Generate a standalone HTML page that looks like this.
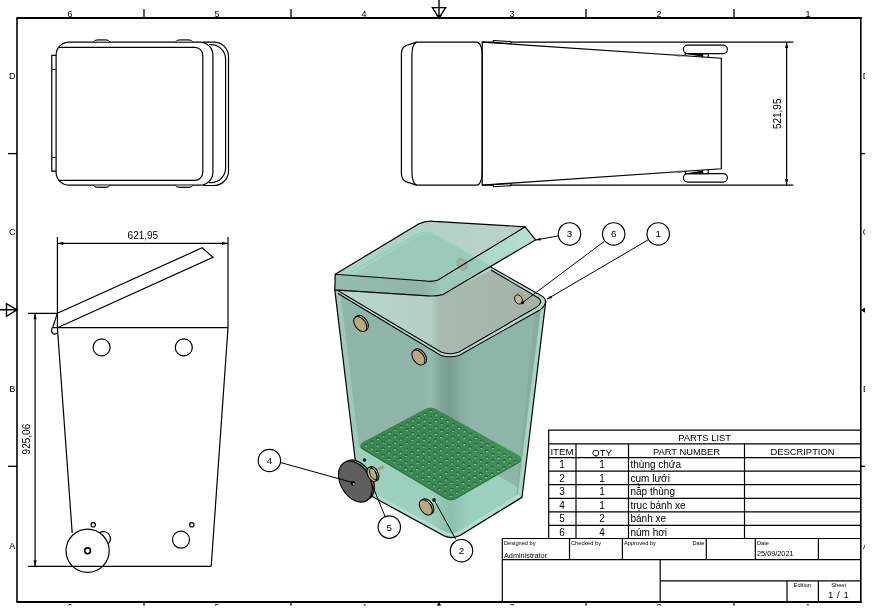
<!DOCTYPE html>
<html><head><meta charset="utf-8"><style>
html,body{margin:0;padding:0;background:#fff;width:877px;height:615px;overflow:hidden}
svg{display:block;will-change:transform}
text{font-family:"Liberation Sans", sans-serif;fill:#000}
</style></head><body>
<svg width="877" height="615" viewBox="0 0 877 615">
<rect width="877" height="615" fill="#fff"/>
<g fill="none" stroke="#000" stroke-width="1.3">
<path d="M17,18 V602" stroke-width="1.6"/><path d="M16.4,18 H861.6 M16.4,602 H861.6" stroke-width="2"/><path d="M860.8,17 V603" stroke-width="1.6"/>
<path d="M144,9 V18"/><path d="M144,602 V607"/>
<path d="M291,9 V18"/><path d="M291,602 V607"/>
<path d="M586,9 V18"/><path d="M586,602 V607"/>
<path d="M734,9 V18"/><path d="M734,602 V607"/>
<path d="M8,153.6 H17"/><path d="M860.6,153.6 H866"/>
<path d="M8,466.3 H17"/><path d="M860.6,466.3 H866"/>
</g>
<path d="M439,0 V18 M432.4,7.6 H445.6 L439,18 Z" fill="none" stroke="#000" stroke-width="1.4"/>
<path d="M436,15 L442,15 L439,18.5 Z" fill="#000"/>
<path d="M0,309.8 H17 M6.5,303.7 V316.3 L17,309.8 Z" fill="none" stroke="#000" stroke-width="1.4"/>
<path d="M861,310.2 L865,307.5 L865,312.8 Z" fill="#000"/>
<path d="M439,602 L436,607 L442,607 Z" fill="#000"/>
<text x="70" y="16.8" font-size="9" text-anchor="middle" >6</text>
<text x="70" y="610.2" font-size="9" text-anchor="middle" >6</text>
<text x="217" y="16.8" font-size="9" text-anchor="middle" >5</text>
<text x="217" y="610.2" font-size="9" text-anchor="middle" >5</text>
<text x="364" y="16.8" font-size="9" text-anchor="middle" >4</text>
<text x="364" y="610.2" font-size="9" text-anchor="middle" >4</text>
<text x="512" y="16.8" font-size="9" text-anchor="middle" >3</text>
<text x="512" y="610.2" font-size="9" text-anchor="middle" >3</text>
<text x="659" y="16.8" font-size="9" text-anchor="middle" >2</text>
<text x="659" y="610.2" font-size="9" text-anchor="middle" >2</text>
<text x="808" y="16.8" font-size="9" text-anchor="middle" >1</text>
<text x="808" y="610.2" font-size="9" text-anchor="middle" >1</text>
<text x="12.3" y="79.2" font-size="9" text-anchor="middle" >D</text>
<text x="866" y="79.2" font-size="9" text-anchor="middle" >D</text>
<text x="12.3" y="234.7" font-size="9" text-anchor="middle" >C</text>
<text x="866" y="234.7" font-size="9" text-anchor="middle" >C</text>
<text x="12.3" y="391.8" font-size="9" text-anchor="middle" >B</text>
<text x="866" y="391.8" font-size="9" text-anchor="middle" >B</text>
<text x="12.3" y="548.6" font-size="9" text-anchor="middle" >A</text>
<text x="866" y="548.6" font-size="9" text-anchor="middle" >A</text>
<g fill="none" stroke="#000" stroke-width="1.2">
<path d="M203,42.2 H214 A14.5,14.5 0 0 1 228.5,56.7 V171 A14.5,14.5 0 0 1 214,185.5 H203"/>
<path d="M209,44.6 H211 A14.6,14.6 0 0 1 225.6,59.2 V168 A14.6,14.6 0 0 1 211,182.6 H209"/>
<rect x="56.1" y="42.1" width="156.8" height="143.1" rx="13" ry="13" fill="#fff"/>
<path d="M58.8,47.3 H194.8 A8,8 0 0 1 202.8,55.3 V172.3 A8,8 0 0 1 194.8,180.3 H58.8"/>
<path d="M56.1,55.3 H51.8 V171.2 H56.1 M51.8,69.5 H56.1 M51.8,157.5 H56.1"/>
</g>
<path d="M93.4,42.1 Q94.4,39.9 97.4,39.8 H106 Q109,39.9 110,42.1" fill="#aaa" stroke="#000" stroke-width="0.9"/>
<path d="M93.4,185.2 Q94.4,187.4 97.4,187.5 H106 Q109,187.4 110,185.2" fill="#aaa" stroke="#000" stroke-width="0.9"/>
<path d="M175.4,42.1 Q176.4,39.9 179.4,39.8 H188.9 Q191.9,39.9 192.9,42.1" fill="#aaa" stroke="#000" stroke-width="0.9"/>
<path d="M175.4,185.2 Q176.4,187.4 179.4,187.5 H188.9 Q191.9,187.4 192.9,185.2" fill="#aaa" stroke="#000" stroke-width="0.9"/>
<g fill="none" stroke="#000" stroke-width="1.2">
<path d="M416.5,42.1 L406,45.5 Q401.4,47.5 401.4,54 V173 Q401.4,179.6 406,181.6 L416.5,185.1"/>
<path d="M416.5,42.1 H477.5 Q482.2,44 482.2,56 V171 Q482.2,183.2 477.5,185.1 H416.5 Q411.9,183.2 411.9,171 V56 Q411.9,44 416.5,42.1 Z"/>
<path d="M482.2,42.1 H793.3 M482.2,185.1 H793.3"/>
<path d="M482.2,42.1 L721.3,58.2 V168.8 L482.2,185.1 Z"/>
<rect x="683.4" y="45.1" width="44" height="8.5" rx="4.25" ry="4.25"/>
<rect x="683.4" y="173.6" width="44" height="8.5" rx="4.25" ry="4.25"/>
<path d="M685.2,53.6 H708.2 V57.8 M702.6,53.6 V57.3 M685.2,53.6 V55.6 M685.2,173.6 H708.2 V169.4 M702.6,173.6 V169.9 M685.2,173.6 V171.6"/>
<path d="M786.6,42.1 V185.1"/>
</g>
<path d="M493.3,40.5 L510.9,41.5 L510.9,43.6 L493.3,42.4 Z" fill="#fff" stroke="#000" stroke-width="1.1"/>
<path d="M493.3,186.7 L510.9,185.7 L510.9,183.6 L493.3,184.8 Z" fill="#fff" stroke="#000" stroke-width="1.1"/>
<path d="M786.60,42.10 L788.20,48.10 L785.00,48.10 Z" fill="#000" stroke="none"/>
<path d="M786.60,185.10 L785.00,179.10 L788.20,179.10 Z" fill="#000" stroke="none"/>
<path d="M686,53.8 L702.4,53.8 L702.4,56.8 Z M686,173.4 L702.4,173.4 L702.4,170.4 Z" fill="#000"/>
<rect x="677" y="54.6" width="5" height="1.8" fill="#555"/><rect x="677" y="170.8" width="5" height="1.8" fill="#555"/>
<text x="0" y="0" font-size="10" text-anchor="middle" transform="translate(780.5,113.8) rotate(-90)">521,95</text>
<g fill="none" stroke="#000" stroke-width="1.2">
<path d="M57.4,237 V328 M228,237 V328 M57.4,243.4 H228"/>
<path d="M57.4,313.3 L202.2,247.8 L213,257.4 L57.4,327.7"/>
<path d="M57.4,327.7 H228"/>
<path d="M57.4,328 L72.2,533 M228,328 L211.2,566.3 M28,566.3 H211.2"/>
<circle cx="101.6" cy="347.4" r="8.5"/><circle cx="183.8" cy="347.4" r="8.5"/>
<path d="M99.6,532.8 A7,7 0 0 1 108.07,543.9"/>
<circle cx="87.6" cy="550.8" r="21.6"/>
<circle cx="87.6" cy="550.8" r="2.9" stroke-width="1.6"/>
<circle cx="93.2" cy="524.8" r="2.2"/><circle cx="191.8" cy="524.8" r="2.2"/>
<circle cx="181" cy="539.7" r="8.5"/>
<path d="M57.4,313.3 L52.6,327.6 M52.2,327.6 H57.4 M52.2,327.6 Q50.6,332 53.2,333.6 Q55.6,334.8 57.6,332.6"/>
<path d="M28,313.3 H57.4 M35.1,313.3 V566.3"/>
</g>
<path d="M57.40,243.40 L63.40,241.80 L63.40,245.00 Z" fill="#000" stroke="none"/>
<path d="M228.00,243.40 L222.00,245.00 L222.00,241.80 Z" fill="#000" stroke="none"/>
<path d="M35.10,313.30 L36.70,319.30 L33.50,319.30 Z" fill="#000" stroke="none"/>
<path d="M35.10,566.30 L33.50,560.30 L36.70,560.30 Z" fill="#000" stroke="none"/>
<text x="142.9" y="238.8" font-size="10" text-anchor="middle" >621,95</text>
<text x="0" y="0" font-size="10" text-anchor="middle" transform="translate(30.3,439.1) rotate(-90)">925,06</text>
<g fill="none" stroke="#000" stroke-width="1.2">
<path d="M548.7,538.5 V430.2 H860.6"/>
<path d="M548.7,443.8 H860.6"/>
<path d="M548.7,457.6 H860.6"/>
<path d="M548.7,471.2 H860.6"/>
<path d="M548.7,484.7 H860.6"/>
<path d="M548.7,498.3 H860.6"/>
<path d="M548.7,511.9 H860.6"/>
<path d="M548.7,525.3 H860.6"/>
<path d="M576,443.8 V538.5"/>
<path d="M628.5,443.8 V538.5"/>
<path d="M744.5,443.8 V538.5"/>
<path d="M502.3,601.8 V538.5 H860.6 M502.3,559.7 H860.6"/>
<path d="M569.5,538.5 V559.7"/>
<path d="M622.4,538.5 V559.7"/>
<path d="M706.3,538.5 V559.7"/>
<path d="M755.3,538.5 V559.7"/>
<path d="M818.4,538.5 V559.7"/>
<path d="M660.2,559.7 V601.8 M660.2,580.8 H860.6 M787,580.8 V601.8 M818.4,580.8 V601.8"/>
</g>
<text x="704.6" y="441" font-size="9.4" text-anchor="middle" >PARTS LIST</text>
<text x="562" y="454.8" font-size="9.7" text-anchor="middle" >ITEM</text>
<text x="602" y="455.5" font-size="9.8" text-anchor="middle" >QTY</text>
<text x="686.5" y="454.6" font-size="9.4" text-anchor="middle" >PART NUMBER</text>
<text x="802.5" y="455.3" font-size="9.4" text-anchor="middle" >DESCRIPTION</text>
<text x="562" y="468.0" font-size="10" text-anchor="middle" >1</text>
<text x="602" y="468.0" font-size="10" text-anchor="middle" >1</text>
<text x="630.5" y="468.0" font-size="10" text-anchor="start" >thùng chứa</text>
<text x="562" y="481.55" font-size="10" text-anchor="middle" >2</text>
<text x="602" y="481.55" font-size="10" text-anchor="middle" >1</text>
<text x="630.5" y="481.55" font-size="10" text-anchor="start" >cụm lưới</text>
<text x="562" y="495.1" font-size="10" text-anchor="middle" >3</text>
<text x="602" y="495.1" font-size="10" text-anchor="middle" >1</text>
<text x="630.5" y="495.1" font-size="10" text-anchor="start" >nắp thùng</text>
<text x="562" y="508.70000000000005" font-size="10" text-anchor="middle" >4</text>
<text x="602" y="508.70000000000005" font-size="10" text-anchor="middle" >1</text>
<text x="630.5" y="508.70000000000005" font-size="10" text-anchor="start" >trục bánh xe</text>
<text x="562" y="522.1999999999999" font-size="10" text-anchor="middle" >5</text>
<text x="602" y="522.1999999999999" font-size="10" text-anchor="middle" >2</text>
<text x="630.5" y="522.1999999999999" font-size="10" text-anchor="start" >bánh xe</text>
<text x="562" y="535.5" font-size="10" text-anchor="middle" >6</text>
<text x="602" y="535.5" font-size="10" text-anchor="middle" >4</text>
<text x="630.5" y="535.5" font-size="10" text-anchor="start" >núm hơi</text>
<text x="504" y="544.8" font-size="5.7" text-anchor="start" >Designed by</text>
<text x="571" y="544.8" font-size="5.7" text-anchor="start" >Checked by</text>
<text x="624" y="544.8" font-size="5.7" text-anchor="start" >Approved by</text>
<text x="704.5" y="544.8" font-size="5.7" text-anchor="end" >Date</text>
<text x="757" y="544.8" font-size="5.7" text-anchor="start" >Date</text>
<text x="504" y="558" font-size="7.3" text-anchor="start" >Administrator</text>
<text x="757" y="556" font-size="7.3" text-anchor="start" >25/09/2021</text>
<text x="802.3" y="586.8" font-size="5.7" text-anchor="middle" >Edition</text>
<text x="838.7" y="586.8" font-size="5.7" text-anchor="middle" >Sheet</text>
<text x="838.7" y="598" font-size="9.5" text-anchor="middle" letter-spacing="0.6">1 / 1</text>
<defs><linearGradient id="fc" x1="422" x2="472" y1="0" y2="0" gradientUnits="userSpaceOnUse"><stop offset="0" stop-color="#8db5a8"/><stop offset="0.18" stop-color="#94bbae"/><stop offset="0.38" stop-color="#80a698"/><stop offset="0.55" stop-color="#789e91"/><stop offset="0.78" stop-color="#87aea0"/><stop offset="1" stop-color="#8db5a8"/></linearGradient><linearGradient id="rim" x1="336" x2="546" y1="0" y2="0" gradientUnits="userSpaceOnUse"><stop offset="0" stop-color="#b8d8c8"/><stop offset="0.45" stop-color="#b2d0c2"/><stop offset="0.49" stop-color="#a8b9ad"/><stop offset="1" stop-color="#a4b4a8"/></linearGradient><linearGradient id="lidtop" x1="336" x2="526" y1="0" y2="0" gradientUnits="userSpaceOnUse"><stop offset="0" stop-color="#aad3c3"/><stop offset="0.5" stop-color="#b0d3c4"/><stop offset="1" stop-color="#bad3c8"/></linearGradient><linearGradient id="lidfl" x1="335" x2="443" y1="0" y2="0" gradientUnits="userSpaceOnUse"><stop offset="0" stop-color="#93bdad"/><stop offset="0.8" stop-color="#8db6a7"/><stop offset="1" stop-color="#9fc6b7"/></linearGradient><linearGradient id="grid" x1="360" x2="522" y1="0" y2="0" gradientUnits="userSpaceOnUse"><stop offset="0" stop-color="#3a8851"/><stop offset="0.6" stop-color="#3c8a53"/><stop offset="1" stop-color="#44925b"/></linearGradient><linearGradient id="lidfr" x1="438" x2="535" y1="0" y2="0" gradientUnits="userSpaceOnUse"><stop offset="0" stop-color="#98c9b8"/><stop offset="0.3" stop-color="#a8d6c4"/><stop offset="1" stop-color="#b6e2cf"/></linearGradient><linearGradient id="fc2" x1="430" x2="470" y1="0" y2="0" gradientUnits="userSpaceOnUse"><stop offset="0" stop-color="#6a9a8a" stop-opacity="0"/><stop offset="0.5" stop-color="#6a9a8a" stop-opacity="0.3"/><stop offset="1" stop-color="#6a9a8a" stop-opacity="0"/></linearGradient><clipPath id="bodyclip"><path d="M334.8,289.9 L355,460 L372,496 L443.8,535.8 Q452,539.5 460,535.5 L522,497.3 L545.6,302 Q545,297.5 541,295.5 L488,265.5 L443,294.5 Z"/></clipPath><clipPath id="lidclip"><path d="M335.2,274.3 L418.5,224 Q426,220.3 434,221.3 L525.2,226.8 L438,280 Q432,282 426,281 Z"/></clipPath><clipPath id="lidclip2"><path d="M335.2,274.3 L418.5,224 Q426,220.3 434,221.3 L525.2,226.8 L535.6,239.9 L443,294.5 L438,280 Q432,282 426,281 Z"/></clipPath></defs>
<g clip-path="url(#bodyclip)">
<path d="M334.8,289.9 L355,460 L372,496 L443.8,535.8 Q452,539.5 460,535.5 L522,497.3 L545.6,302 Q545,297.5 541,295.5 L488,265.5 L443,294.5 Z" fill="#8db5a8"/>
<path d="M334.8,289.9 L340.3,292 L360.5,460 L355.2,460 Z" fill="#a0c9ba"/>
<rect x="422" y="340" width="50" height="200" fill="url(#fc)"/>
<path d="M355,445 L451,500 L497,475 L521,489 L522,497.3 L460,535.5 Q452,539.5 443.8,535.8 L372,496 L355,460 Z" fill="#9bd0bc"/>
<rect x="430" y="470" width="40" height="70" fill="url(#fc2)"/>
<path d="M372,493.5 L444,533 Q452,536.5 459,533 L521,494.5" fill="none" stroke="#b3e0cd" stroke-width="3"/>
<path d="M535.6,303 L541.6,303 L522.3,495 L516.3,495 Z" fill="#82aa9c" opacity="0.7"/>
<path d="M541.6,303 L545.8,301 L522,497.3 L517.6,495 Z" fill="#a8d6c3"/>
</g>
<path d="M363.1,449.9 Q357.5,446.6 363.2,443.5 L425.1,410.7 Q430.8,407.6 436.5,410.8 L518.3,456.7 Q524.0,459.9 518.4,463.2 L456.6,498.8 Q451.0,502.1 445.4,498.8 Z" fill="#2f7443"/>
<path d="M363.1,448.3 Q357.5,445.0 363.2,441.9 L425.1,409.1 Q430.8,406.0 436.5,409.2 L518.3,455.1 Q524.0,458.3 518.4,461.6 L456.6,497.2 Q451.0,500.5 445.4,497.2 Z" fill="url(#grid)"/>
<path d="M364.3,444.9a1.8,1.25 0 1 0 3.6,0a1.8,1.25 0 1 0 -3.6,0M370.0,448.2a1.8,1.25 0 1 0 3.6,0a1.8,1.25 0 1 0 -3.6,0M375.7,451.6a1.8,1.25 0 1 0 3.6,0a1.8,1.25 0 1 0 -3.6,0M381.3,455.0a1.8,1.25 0 1 0 3.6,0a1.8,1.25 0 1 0 -3.6,0M387.0,458.3a1.8,1.25 0 1 0 3.6,0a1.8,1.25 0 1 0 -3.6,0M392.7,461.7a1.8,1.25 0 1 0 3.6,0a1.8,1.25 0 1 0 -3.6,0M398.3,465.1a1.8,1.25 0 1 0 3.6,0a1.8,1.25 0 1 0 -3.6,0M404.0,468.4a1.8,1.25 0 1 0 3.6,0a1.8,1.25 0 1 0 -3.6,0M409.7,471.8a1.8,1.25 0 1 0 3.6,0a1.8,1.25 0 1 0 -3.6,0M415.3,475.2a1.8,1.25 0 1 0 3.6,0a1.8,1.25 0 1 0 -3.6,0M421.0,478.5a1.8,1.25 0 1 0 3.6,0a1.8,1.25 0 1 0 -3.6,0M426.7,481.9a1.8,1.25 0 1 0 3.6,0a1.8,1.25 0 1 0 -3.6,0M432.3,485.2a1.8,1.25 0 1 0 3.6,0a1.8,1.25 0 1 0 -3.6,0M438.0,488.6a1.8,1.25 0 1 0 3.6,0a1.8,1.25 0 1 0 -3.6,0M443.7,492.0a1.8,1.25 0 1 0 3.6,0a1.8,1.25 0 1 0 -3.6,0M449.3,495.3a1.8,1.25 0 1 0 3.6,0a1.8,1.25 0 1 0 -3.6,0M370.2,441.8a1.8,1.25 0 1 0 3.6,0a1.8,1.25 0 1 0 -3.6,0M375.9,445.1a1.8,1.25 0 1 0 3.6,0a1.8,1.25 0 1 0 -3.6,0M381.5,448.5a1.8,1.25 0 1 0 3.6,0a1.8,1.25 0 1 0 -3.6,0M387.2,451.9a1.8,1.25 0 1 0 3.6,0a1.8,1.25 0 1 0 -3.6,0M392.9,455.2a1.8,1.25 0 1 0 3.6,0a1.8,1.25 0 1 0 -3.6,0M398.5,458.6a1.8,1.25 0 1 0 3.6,0a1.8,1.25 0 1 0 -3.6,0M404.2,461.9a1.8,1.25 0 1 0 3.6,0a1.8,1.25 0 1 0 -3.6,0M409.9,465.3a1.8,1.25 0 1 0 3.6,0a1.8,1.25 0 1 0 -3.6,0M415.5,468.7a1.8,1.25 0 1 0 3.6,0a1.8,1.25 0 1 0 -3.6,0M421.2,472.0a1.8,1.25 0 1 0 3.6,0a1.8,1.25 0 1 0 -3.6,0M426.9,475.4a1.8,1.25 0 1 0 3.6,0a1.8,1.25 0 1 0 -3.6,0M432.5,478.8a1.8,1.25 0 1 0 3.6,0a1.8,1.25 0 1 0 -3.6,0M438.2,482.1a1.8,1.25 0 1 0 3.6,0a1.8,1.25 0 1 0 -3.6,0M443.9,485.5a1.8,1.25 0 1 0 3.6,0a1.8,1.25 0 1 0 -3.6,0M449.5,488.9a1.8,1.25 0 1 0 3.6,0a1.8,1.25 0 1 0 -3.6,0M455.2,492.2a1.8,1.25 0 1 0 3.6,0a1.8,1.25 0 1 0 -3.6,0M376.1,438.6a1.8,1.25 0 1 0 3.6,0a1.8,1.25 0 1 0 -3.6,0M381.7,442.0a1.8,1.25 0 1 0 3.6,0a1.8,1.25 0 1 0 -3.6,0M387.4,445.4a1.8,1.25 0 1 0 3.6,0a1.8,1.25 0 1 0 -3.6,0M393.1,448.7a1.8,1.25 0 1 0 3.6,0a1.8,1.25 0 1 0 -3.6,0M398.7,452.1a1.8,1.25 0 1 0 3.6,0a1.8,1.25 0 1 0 -3.6,0M404.4,455.5a1.8,1.25 0 1 0 3.6,0a1.8,1.25 0 1 0 -3.6,0M410.1,458.8a1.8,1.25 0 1 0 3.6,0a1.8,1.25 0 1 0 -3.6,0M415.7,462.2a1.8,1.25 0 1 0 3.6,0a1.8,1.25 0 1 0 -3.6,0M421.4,465.6a1.8,1.25 0 1 0 3.6,0a1.8,1.25 0 1 0 -3.6,0M427.1,468.9a1.8,1.25 0 1 0 3.6,0a1.8,1.25 0 1 0 -3.6,0M432.7,472.3a1.8,1.25 0 1 0 3.6,0a1.8,1.25 0 1 0 -3.6,0M438.4,475.6a1.8,1.25 0 1 0 3.6,0a1.8,1.25 0 1 0 -3.6,0M444.1,479.0a1.8,1.25 0 1 0 3.6,0a1.8,1.25 0 1 0 -3.6,0M449.7,482.4a1.8,1.25 0 1 0 3.6,0a1.8,1.25 0 1 0 -3.6,0M455.4,485.7a1.8,1.25 0 1 0 3.6,0a1.8,1.25 0 1 0 -3.6,0M461.1,489.1a1.8,1.25 0 1 0 3.6,0a1.8,1.25 0 1 0 -3.6,0M381.9,435.5a1.8,1.25 0 1 0 3.6,0a1.8,1.25 0 1 0 -3.6,0M387.6,438.9a1.8,1.25 0 1 0 3.6,0a1.8,1.25 0 1 0 -3.6,0M393.3,442.2a1.8,1.25 0 1 0 3.6,0a1.8,1.25 0 1 0 -3.6,0M398.9,445.6a1.8,1.25 0 1 0 3.6,0a1.8,1.25 0 1 0 -3.6,0M404.6,449.0a1.8,1.25 0 1 0 3.6,0a1.8,1.25 0 1 0 -3.6,0M410.3,452.3a1.8,1.25 0 1 0 3.6,0a1.8,1.25 0 1 0 -3.6,0M415.9,455.7a1.8,1.25 0 1 0 3.6,0a1.8,1.25 0 1 0 -3.6,0M421.6,459.1a1.8,1.25 0 1 0 3.6,0a1.8,1.25 0 1 0 -3.6,0M427.3,462.4a1.8,1.25 0 1 0 3.6,0a1.8,1.25 0 1 0 -3.6,0M432.9,465.8a1.8,1.25 0 1 0 3.6,0a1.8,1.25 0 1 0 -3.6,0M438.6,469.2a1.8,1.25 0 1 0 3.6,0a1.8,1.25 0 1 0 -3.6,0M444.3,472.5a1.8,1.25 0 1 0 3.6,0a1.8,1.25 0 1 0 -3.6,0M449.9,475.9a1.8,1.25 0 1 0 3.6,0a1.8,1.25 0 1 0 -3.6,0M455.6,479.2a1.8,1.25 0 1 0 3.6,0a1.8,1.25 0 1 0 -3.6,0M461.3,482.6a1.8,1.25 0 1 0 3.6,0a1.8,1.25 0 1 0 -3.6,0M466.9,486.0a1.8,1.25 0 1 0 3.6,0a1.8,1.25 0 1 0 -3.6,0M387.8,432.4a1.8,1.25 0 1 0 3.6,0a1.8,1.25 0 1 0 -3.6,0M393.5,435.8a1.8,1.25 0 1 0 3.6,0a1.8,1.25 0 1 0 -3.6,0M399.1,439.1a1.8,1.25 0 1 0 3.6,0a1.8,1.25 0 1 0 -3.6,0M404.8,442.5a1.8,1.25 0 1 0 3.6,0a1.8,1.25 0 1 0 -3.6,0M410.5,445.9a1.8,1.25 0 1 0 3.6,0a1.8,1.25 0 1 0 -3.6,0M416.1,449.2a1.8,1.25 0 1 0 3.6,0a1.8,1.25 0 1 0 -3.6,0M421.8,452.6a1.8,1.25 0 1 0 3.6,0a1.8,1.25 0 1 0 -3.6,0M427.5,455.9a1.8,1.25 0 1 0 3.6,0a1.8,1.25 0 1 0 -3.6,0M433.1,459.3a1.8,1.25 0 1 0 3.6,0a1.8,1.25 0 1 0 -3.6,0M438.8,462.7a1.8,1.25 0 1 0 3.6,0a1.8,1.25 0 1 0 -3.6,0M444.5,466.0a1.8,1.25 0 1 0 3.6,0a1.8,1.25 0 1 0 -3.6,0M450.1,469.4a1.8,1.25 0 1 0 3.6,0a1.8,1.25 0 1 0 -3.6,0M455.8,472.8a1.8,1.25 0 1 0 3.6,0a1.8,1.25 0 1 0 -3.6,0M461.5,476.1a1.8,1.25 0 1 0 3.6,0a1.8,1.25 0 1 0 -3.6,0M467.1,479.5a1.8,1.25 0 1 0 3.6,0a1.8,1.25 0 1 0 -3.6,0M472.8,482.9a1.8,1.25 0 1 0 3.6,0a1.8,1.25 0 1 0 -3.6,0M393.7,429.3a1.8,1.25 0 1 0 3.6,0a1.8,1.25 0 1 0 -3.6,0M399.3,432.6a1.8,1.25 0 1 0 3.6,0a1.8,1.25 0 1 0 -3.6,0M405.0,436.0a1.8,1.25 0 1 0 3.6,0a1.8,1.25 0 1 0 -3.6,0M410.7,439.4a1.8,1.25 0 1 0 3.6,0a1.8,1.25 0 1 0 -3.6,0M416.3,442.7a1.8,1.25 0 1 0 3.6,0a1.8,1.25 0 1 0 -3.6,0M422.0,446.1a1.8,1.25 0 1 0 3.6,0a1.8,1.25 0 1 0 -3.6,0M427.7,449.5a1.8,1.25 0 1 0 3.6,0a1.8,1.25 0 1 0 -3.6,0M433.3,452.8a1.8,1.25 0 1 0 3.6,0a1.8,1.25 0 1 0 -3.6,0M439.0,456.2a1.8,1.25 0 1 0 3.6,0a1.8,1.25 0 1 0 -3.6,0M444.7,459.6a1.8,1.25 0 1 0 3.6,0a1.8,1.25 0 1 0 -3.6,0M450.3,462.9a1.8,1.25 0 1 0 3.6,0a1.8,1.25 0 1 0 -3.6,0M456.0,466.3a1.8,1.25 0 1 0 3.6,0a1.8,1.25 0 1 0 -3.6,0M461.7,469.6a1.8,1.25 0 1 0 3.6,0a1.8,1.25 0 1 0 -3.6,0M467.3,473.0a1.8,1.25 0 1 0 3.6,0a1.8,1.25 0 1 0 -3.6,0M473.0,476.4a1.8,1.25 0 1 0 3.6,0a1.8,1.25 0 1 0 -3.6,0M478.7,479.7a1.8,1.25 0 1 0 3.6,0a1.8,1.25 0 1 0 -3.6,0M399.5,426.2a1.8,1.25 0 1 0 3.6,0a1.8,1.25 0 1 0 -3.6,0M405.2,429.5a1.8,1.25 0 1 0 3.6,0a1.8,1.25 0 1 0 -3.6,0M410.9,432.9a1.8,1.25 0 1 0 3.6,0a1.8,1.25 0 1 0 -3.6,0M416.5,436.3a1.8,1.25 0 1 0 3.6,0a1.8,1.25 0 1 0 -3.6,0M422.2,439.6a1.8,1.25 0 1 0 3.6,0a1.8,1.25 0 1 0 -3.6,0M427.9,443.0a1.8,1.25 0 1 0 3.6,0a1.8,1.25 0 1 0 -3.6,0M433.5,446.3a1.8,1.25 0 1 0 3.6,0a1.8,1.25 0 1 0 -3.6,0M439.2,449.7a1.8,1.25 0 1 0 3.6,0a1.8,1.25 0 1 0 -3.6,0M444.9,453.1a1.8,1.25 0 1 0 3.6,0a1.8,1.25 0 1 0 -3.6,0M450.5,456.4a1.8,1.25 0 1 0 3.6,0a1.8,1.25 0 1 0 -3.6,0M456.2,459.8a1.8,1.25 0 1 0 3.6,0a1.8,1.25 0 1 0 -3.6,0M461.9,463.2a1.8,1.25 0 1 0 3.6,0a1.8,1.25 0 1 0 -3.6,0M467.5,466.5a1.8,1.25 0 1 0 3.6,0a1.8,1.25 0 1 0 -3.6,0M473.2,469.9a1.8,1.25 0 1 0 3.6,0a1.8,1.25 0 1 0 -3.6,0M478.9,473.3a1.8,1.25 0 1 0 3.6,0a1.8,1.25 0 1 0 -3.6,0M484.5,476.6a1.8,1.25 0 1 0 3.6,0a1.8,1.25 0 1 0 -3.6,0M405.4,423.0a1.8,1.25 0 1 0 3.6,0a1.8,1.25 0 1 0 -3.6,0M411.1,426.4a1.8,1.25 0 1 0 3.6,0a1.8,1.25 0 1 0 -3.6,0M416.7,429.8a1.8,1.25 0 1 0 3.6,0a1.8,1.25 0 1 0 -3.6,0M422.4,433.1a1.8,1.25 0 1 0 3.6,0a1.8,1.25 0 1 0 -3.6,0M428.1,436.5a1.8,1.25 0 1 0 3.6,0a1.8,1.25 0 1 0 -3.6,0M433.7,439.9a1.8,1.25 0 1 0 3.6,0a1.8,1.25 0 1 0 -3.6,0M439.4,443.2a1.8,1.25 0 1 0 3.6,0a1.8,1.25 0 1 0 -3.6,0M445.1,446.6a1.8,1.25 0 1 0 3.6,0a1.8,1.25 0 1 0 -3.6,0M450.7,450.0a1.8,1.25 0 1 0 3.6,0a1.8,1.25 0 1 0 -3.6,0M456.4,453.3a1.8,1.25 0 1 0 3.6,0a1.8,1.25 0 1 0 -3.6,0M462.1,456.7a1.8,1.25 0 1 0 3.6,0a1.8,1.25 0 1 0 -3.6,0M467.7,460.0a1.8,1.25 0 1 0 3.6,0a1.8,1.25 0 1 0 -3.6,0M473.4,463.4a1.8,1.25 0 1 0 3.6,0a1.8,1.25 0 1 0 -3.6,0M479.1,466.8a1.8,1.25 0 1 0 3.6,0a1.8,1.25 0 1 0 -3.6,0M484.7,470.1a1.8,1.25 0 1 0 3.6,0a1.8,1.25 0 1 0 -3.6,0M490.4,473.5a1.8,1.25 0 1 0 3.6,0a1.8,1.25 0 1 0 -3.6,0M411.3,419.9a1.8,1.25 0 1 0 3.6,0a1.8,1.25 0 1 0 -3.6,0M416.9,423.3a1.8,1.25 0 1 0 3.6,0a1.8,1.25 0 1 0 -3.6,0M422.6,426.6a1.8,1.25 0 1 0 3.6,0a1.8,1.25 0 1 0 -3.6,0M428.3,430.0a1.8,1.25 0 1 0 3.6,0a1.8,1.25 0 1 0 -3.6,0M433.9,433.4a1.8,1.25 0 1 0 3.6,0a1.8,1.25 0 1 0 -3.6,0M439.6,436.7a1.8,1.25 0 1 0 3.6,0a1.8,1.25 0 1 0 -3.6,0M445.3,440.1a1.8,1.25 0 1 0 3.6,0a1.8,1.25 0 1 0 -3.6,0M450.9,443.5a1.8,1.25 0 1 0 3.6,0a1.8,1.25 0 1 0 -3.6,0M456.6,446.8a1.8,1.25 0 1 0 3.6,0a1.8,1.25 0 1 0 -3.6,0M462.3,450.2a1.8,1.25 0 1 0 3.6,0a1.8,1.25 0 1 0 -3.6,0M467.9,453.6a1.8,1.25 0 1 0 3.6,0a1.8,1.25 0 1 0 -3.6,0M473.6,456.9a1.8,1.25 0 1 0 3.6,0a1.8,1.25 0 1 0 -3.6,0M479.3,460.3a1.8,1.25 0 1 0 3.6,0a1.8,1.25 0 1 0 -3.6,0M484.9,463.6a1.8,1.25 0 1 0 3.6,0a1.8,1.25 0 1 0 -3.6,0M490.6,467.0a1.8,1.25 0 1 0 3.6,0a1.8,1.25 0 1 0 -3.6,0M496.3,470.4a1.8,1.25 0 1 0 3.6,0a1.8,1.25 0 1 0 -3.6,0M417.1,416.8a1.8,1.25 0 1 0 3.6,0a1.8,1.25 0 1 0 -3.6,0M422.8,420.2a1.8,1.25 0 1 0 3.6,0a1.8,1.25 0 1 0 -3.6,0M428.5,423.5a1.8,1.25 0 1 0 3.6,0a1.8,1.25 0 1 0 -3.6,0M434.1,426.9a1.8,1.25 0 1 0 3.6,0a1.8,1.25 0 1 0 -3.6,0M439.8,430.3a1.8,1.25 0 1 0 3.6,0a1.8,1.25 0 1 0 -3.6,0M445.5,433.6a1.8,1.25 0 1 0 3.6,0a1.8,1.25 0 1 0 -3.6,0M451.1,437.0a1.8,1.25 0 1 0 3.6,0a1.8,1.25 0 1 0 -3.6,0M456.8,440.3a1.8,1.25 0 1 0 3.6,0a1.8,1.25 0 1 0 -3.6,0M462.5,443.7a1.8,1.25 0 1 0 3.6,0a1.8,1.25 0 1 0 -3.6,0M468.1,447.1a1.8,1.25 0 1 0 3.6,0a1.8,1.25 0 1 0 -3.6,0M473.8,450.4a1.8,1.25 0 1 0 3.6,0a1.8,1.25 0 1 0 -3.6,0M479.5,453.8a1.8,1.25 0 1 0 3.6,0a1.8,1.25 0 1 0 -3.6,0M485.1,457.2a1.8,1.25 0 1 0 3.6,0a1.8,1.25 0 1 0 -3.6,0M490.8,460.5a1.8,1.25 0 1 0 3.6,0a1.8,1.25 0 1 0 -3.6,0M496.5,463.9a1.8,1.25 0 1 0 3.6,0a1.8,1.25 0 1 0 -3.6,0M502.1,467.3a1.8,1.25 0 1 0 3.6,0a1.8,1.25 0 1 0 -3.6,0M423.0,413.7a1.8,1.25 0 1 0 3.6,0a1.8,1.25 0 1 0 -3.6,0M428.7,417.0a1.8,1.25 0 1 0 3.6,0a1.8,1.25 0 1 0 -3.6,0M434.3,420.4a1.8,1.25 0 1 0 3.6,0a1.8,1.25 0 1 0 -3.6,0M440.0,423.8a1.8,1.25 0 1 0 3.6,0a1.8,1.25 0 1 0 -3.6,0M445.7,427.1a1.8,1.25 0 1 0 3.6,0a1.8,1.25 0 1 0 -3.6,0M451.3,430.5a1.8,1.25 0 1 0 3.6,0a1.8,1.25 0 1 0 -3.6,0M457.0,433.9a1.8,1.25 0 1 0 3.6,0a1.8,1.25 0 1 0 -3.6,0M462.7,437.2a1.8,1.25 0 1 0 3.6,0a1.8,1.25 0 1 0 -3.6,0M468.3,440.6a1.8,1.25 0 1 0 3.6,0a1.8,1.25 0 1 0 -3.6,0M474.0,444.0a1.8,1.25 0 1 0 3.6,0a1.8,1.25 0 1 0 -3.6,0M479.7,447.3a1.8,1.25 0 1 0 3.6,0a1.8,1.25 0 1 0 -3.6,0M485.3,450.7a1.8,1.25 0 1 0 3.6,0a1.8,1.25 0 1 0 -3.6,0M491.0,454.0a1.8,1.25 0 1 0 3.6,0a1.8,1.25 0 1 0 -3.6,0M496.7,457.4a1.8,1.25 0 1 0 3.6,0a1.8,1.25 0 1 0 -3.6,0M502.3,460.8a1.8,1.25 0 1 0 3.6,0a1.8,1.25 0 1 0 -3.6,0M508.0,464.1a1.8,1.25 0 1 0 3.6,0a1.8,1.25 0 1 0 -3.6,0M428.9,410.6a1.8,1.25 0 1 0 3.6,0a1.8,1.25 0 1 0 -3.6,0M434.5,413.9a1.8,1.25 0 1 0 3.6,0a1.8,1.25 0 1 0 -3.6,0M440.2,417.3a1.8,1.25 0 1 0 3.6,0a1.8,1.25 0 1 0 -3.6,0M445.9,420.7a1.8,1.25 0 1 0 3.6,0a1.8,1.25 0 1 0 -3.6,0M451.5,424.0a1.8,1.25 0 1 0 3.6,0a1.8,1.25 0 1 0 -3.6,0M457.2,427.4a1.8,1.25 0 1 0 3.6,0a1.8,1.25 0 1 0 -3.6,0M462.9,430.7a1.8,1.25 0 1 0 3.6,0a1.8,1.25 0 1 0 -3.6,0M468.5,434.1a1.8,1.25 0 1 0 3.6,0a1.8,1.25 0 1 0 -3.6,0M474.2,437.5a1.8,1.25 0 1 0 3.6,0a1.8,1.25 0 1 0 -3.6,0M479.9,440.8a1.8,1.25 0 1 0 3.6,0a1.8,1.25 0 1 0 -3.6,0M485.5,444.2a1.8,1.25 0 1 0 3.6,0a1.8,1.25 0 1 0 -3.6,0M491.2,447.6a1.8,1.25 0 1 0 3.6,0a1.8,1.25 0 1 0 -3.6,0M496.9,450.9a1.8,1.25 0 1 0 3.6,0a1.8,1.25 0 1 0 -3.6,0M502.5,454.3a1.8,1.25 0 1 0 3.6,0a1.8,1.25 0 1 0 -3.6,0M508.2,457.7a1.8,1.25 0 1 0 3.6,0a1.8,1.25 0 1 0 -3.6,0M513.9,461.0a1.8,1.25 0 1 0 3.6,0a1.8,1.25 0 1 0 -3.6,0" fill="#2d6840"/>
<path d="M364.9,445.9a1.2,0.6 0 1 0 2.4,0a1.2,0.6 0 1 0 -2.4,0M370.6,449.2a1.2,0.6 0 1 0 2.4,0a1.2,0.6 0 1 0 -2.4,0M376.3,452.6a1.2,0.6 0 1 0 2.4,0a1.2,0.6 0 1 0 -2.4,0M381.9,456.0a1.2,0.6 0 1 0 2.4,0a1.2,0.6 0 1 0 -2.4,0M387.6,459.3a1.2,0.6 0 1 0 2.4,0a1.2,0.6 0 1 0 -2.4,0M393.3,462.7a1.2,0.6 0 1 0 2.4,0a1.2,0.6 0 1 0 -2.4,0M398.9,466.1a1.2,0.6 0 1 0 2.4,0a1.2,0.6 0 1 0 -2.4,0M404.6,469.4a1.2,0.6 0 1 0 2.4,0a1.2,0.6 0 1 0 -2.4,0M410.3,472.8a1.2,0.6 0 1 0 2.4,0a1.2,0.6 0 1 0 -2.4,0M415.9,476.2a1.2,0.6 0 1 0 2.4,0a1.2,0.6 0 1 0 -2.4,0M421.6,479.5a1.2,0.6 0 1 0 2.4,0a1.2,0.6 0 1 0 -2.4,0M427.3,482.9a1.2,0.6 0 1 0 2.4,0a1.2,0.6 0 1 0 -2.4,0M432.9,486.2a1.2,0.6 0 1 0 2.4,0a1.2,0.6 0 1 0 -2.4,0M438.6,489.6a1.2,0.6 0 1 0 2.4,0a1.2,0.6 0 1 0 -2.4,0M444.3,493.0a1.2,0.6 0 1 0 2.4,0a1.2,0.6 0 1 0 -2.4,0M449.9,496.3a1.2,0.6 0 1 0 2.4,0a1.2,0.6 0 1 0 -2.4,0M370.8,442.8a1.2,0.6 0 1 0 2.4,0a1.2,0.6 0 1 0 -2.4,0M376.5,446.1a1.2,0.6 0 1 0 2.4,0a1.2,0.6 0 1 0 -2.4,0M382.1,449.5a1.2,0.6 0 1 0 2.4,0a1.2,0.6 0 1 0 -2.4,0M387.8,452.9a1.2,0.6 0 1 0 2.4,0a1.2,0.6 0 1 0 -2.4,0M393.5,456.2a1.2,0.6 0 1 0 2.4,0a1.2,0.6 0 1 0 -2.4,0M399.1,459.6a1.2,0.6 0 1 0 2.4,0a1.2,0.6 0 1 0 -2.4,0M404.8,462.9a1.2,0.6 0 1 0 2.4,0a1.2,0.6 0 1 0 -2.4,0M410.5,466.3a1.2,0.6 0 1 0 2.4,0a1.2,0.6 0 1 0 -2.4,0M416.1,469.7a1.2,0.6 0 1 0 2.4,0a1.2,0.6 0 1 0 -2.4,0M421.8,473.0a1.2,0.6 0 1 0 2.4,0a1.2,0.6 0 1 0 -2.4,0M427.5,476.4a1.2,0.6 0 1 0 2.4,0a1.2,0.6 0 1 0 -2.4,0M433.1,479.8a1.2,0.6 0 1 0 2.4,0a1.2,0.6 0 1 0 -2.4,0M438.8,483.1a1.2,0.6 0 1 0 2.4,0a1.2,0.6 0 1 0 -2.4,0M444.5,486.5a1.2,0.6 0 1 0 2.4,0a1.2,0.6 0 1 0 -2.4,0M450.1,489.9a1.2,0.6 0 1 0 2.4,0a1.2,0.6 0 1 0 -2.4,0M455.8,493.2a1.2,0.6 0 1 0 2.4,0a1.2,0.6 0 1 0 -2.4,0M376.7,439.6a1.2,0.6 0 1 0 2.4,0a1.2,0.6 0 1 0 -2.4,0M382.3,443.0a1.2,0.6 0 1 0 2.4,0a1.2,0.6 0 1 0 -2.4,0M388.0,446.4a1.2,0.6 0 1 0 2.4,0a1.2,0.6 0 1 0 -2.4,0M393.7,449.7a1.2,0.6 0 1 0 2.4,0a1.2,0.6 0 1 0 -2.4,0M399.3,453.1a1.2,0.6 0 1 0 2.4,0a1.2,0.6 0 1 0 -2.4,0M405.0,456.5a1.2,0.6 0 1 0 2.4,0a1.2,0.6 0 1 0 -2.4,0M410.7,459.8a1.2,0.6 0 1 0 2.4,0a1.2,0.6 0 1 0 -2.4,0M416.3,463.2a1.2,0.6 0 1 0 2.4,0a1.2,0.6 0 1 0 -2.4,0M422.0,466.6a1.2,0.6 0 1 0 2.4,0a1.2,0.6 0 1 0 -2.4,0M427.7,469.9a1.2,0.6 0 1 0 2.4,0a1.2,0.6 0 1 0 -2.4,0M433.3,473.3a1.2,0.6 0 1 0 2.4,0a1.2,0.6 0 1 0 -2.4,0M439.0,476.6a1.2,0.6 0 1 0 2.4,0a1.2,0.6 0 1 0 -2.4,0M444.7,480.0a1.2,0.6 0 1 0 2.4,0a1.2,0.6 0 1 0 -2.4,0M450.3,483.4a1.2,0.6 0 1 0 2.4,0a1.2,0.6 0 1 0 -2.4,0M456.0,486.7a1.2,0.6 0 1 0 2.4,0a1.2,0.6 0 1 0 -2.4,0M461.7,490.1a1.2,0.6 0 1 0 2.4,0a1.2,0.6 0 1 0 -2.4,0M382.5,436.5a1.2,0.6 0 1 0 2.4,0a1.2,0.6 0 1 0 -2.4,0M388.2,439.9a1.2,0.6 0 1 0 2.4,0a1.2,0.6 0 1 0 -2.4,0M393.9,443.2a1.2,0.6 0 1 0 2.4,0a1.2,0.6 0 1 0 -2.4,0M399.5,446.6a1.2,0.6 0 1 0 2.4,0a1.2,0.6 0 1 0 -2.4,0M405.2,450.0a1.2,0.6 0 1 0 2.4,0a1.2,0.6 0 1 0 -2.4,0M410.9,453.3a1.2,0.6 0 1 0 2.4,0a1.2,0.6 0 1 0 -2.4,0M416.5,456.7a1.2,0.6 0 1 0 2.4,0a1.2,0.6 0 1 0 -2.4,0M422.2,460.1a1.2,0.6 0 1 0 2.4,0a1.2,0.6 0 1 0 -2.4,0M427.9,463.4a1.2,0.6 0 1 0 2.4,0a1.2,0.6 0 1 0 -2.4,0M433.5,466.8a1.2,0.6 0 1 0 2.4,0a1.2,0.6 0 1 0 -2.4,0M439.2,470.2a1.2,0.6 0 1 0 2.4,0a1.2,0.6 0 1 0 -2.4,0M444.9,473.5a1.2,0.6 0 1 0 2.4,0a1.2,0.6 0 1 0 -2.4,0M450.5,476.9a1.2,0.6 0 1 0 2.4,0a1.2,0.6 0 1 0 -2.4,0M456.2,480.2a1.2,0.6 0 1 0 2.4,0a1.2,0.6 0 1 0 -2.4,0M461.9,483.6a1.2,0.6 0 1 0 2.4,0a1.2,0.6 0 1 0 -2.4,0M467.5,487.0a1.2,0.6 0 1 0 2.4,0a1.2,0.6 0 1 0 -2.4,0M388.4,433.4a1.2,0.6 0 1 0 2.4,0a1.2,0.6 0 1 0 -2.4,0M394.1,436.8a1.2,0.6 0 1 0 2.4,0a1.2,0.6 0 1 0 -2.4,0M399.7,440.1a1.2,0.6 0 1 0 2.4,0a1.2,0.6 0 1 0 -2.4,0M405.4,443.5a1.2,0.6 0 1 0 2.4,0a1.2,0.6 0 1 0 -2.4,0M411.1,446.9a1.2,0.6 0 1 0 2.4,0a1.2,0.6 0 1 0 -2.4,0M416.7,450.2a1.2,0.6 0 1 0 2.4,0a1.2,0.6 0 1 0 -2.4,0M422.4,453.6a1.2,0.6 0 1 0 2.4,0a1.2,0.6 0 1 0 -2.4,0M428.1,456.9a1.2,0.6 0 1 0 2.4,0a1.2,0.6 0 1 0 -2.4,0M433.7,460.3a1.2,0.6 0 1 0 2.4,0a1.2,0.6 0 1 0 -2.4,0M439.4,463.7a1.2,0.6 0 1 0 2.4,0a1.2,0.6 0 1 0 -2.4,0M445.1,467.0a1.2,0.6 0 1 0 2.4,0a1.2,0.6 0 1 0 -2.4,0M450.7,470.4a1.2,0.6 0 1 0 2.4,0a1.2,0.6 0 1 0 -2.4,0M456.4,473.8a1.2,0.6 0 1 0 2.4,0a1.2,0.6 0 1 0 -2.4,0M462.1,477.1a1.2,0.6 0 1 0 2.4,0a1.2,0.6 0 1 0 -2.4,0M467.7,480.5a1.2,0.6 0 1 0 2.4,0a1.2,0.6 0 1 0 -2.4,0M473.4,483.9a1.2,0.6 0 1 0 2.4,0a1.2,0.6 0 1 0 -2.4,0M394.3,430.3a1.2,0.6 0 1 0 2.4,0a1.2,0.6 0 1 0 -2.4,0M399.9,433.6a1.2,0.6 0 1 0 2.4,0a1.2,0.6 0 1 0 -2.4,0M405.6,437.0a1.2,0.6 0 1 0 2.4,0a1.2,0.6 0 1 0 -2.4,0M411.3,440.4a1.2,0.6 0 1 0 2.4,0a1.2,0.6 0 1 0 -2.4,0M416.9,443.7a1.2,0.6 0 1 0 2.4,0a1.2,0.6 0 1 0 -2.4,0M422.6,447.1a1.2,0.6 0 1 0 2.4,0a1.2,0.6 0 1 0 -2.4,0M428.3,450.5a1.2,0.6 0 1 0 2.4,0a1.2,0.6 0 1 0 -2.4,0M433.9,453.8a1.2,0.6 0 1 0 2.4,0a1.2,0.6 0 1 0 -2.4,0M439.6,457.2a1.2,0.6 0 1 0 2.4,0a1.2,0.6 0 1 0 -2.4,0M445.3,460.6a1.2,0.6 0 1 0 2.4,0a1.2,0.6 0 1 0 -2.4,0M450.9,463.9a1.2,0.6 0 1 0 2.4,0a1.2,0.6 0 1 0 -2.4,0M456.6,467.3a1.2,0.6 0 1 0 2.4,0a1.2,0.6 0 1 0 -2.4,0M462.3,470.6a1.2,0.6 0 1 0 2.4,0a1.2,0.6 0 1 0 -2.4,0M467.9,474.0a1.2,0.6 0 1 0 2.4,0a1.2,0.6 0 1 0 -2.4,0M473.6,477.4a1.2,0.6 0 1 0 2.4,0a1.2,0.6 0 1 0 -2.4,0M479.3,480.7a1.2,0.6 0 1 0 2.4,0a1.2,0.6 0 1 0 -2.4,0M400.1,427.2a1.2,0.6 0 1 0 2.4,0a1.2,0.6 0 1 0 -2.4,0M405.8,430.5a1.2,0.6 0 1 0 2.4,0a1.2,0.6 0 1 0 -2.4,0M411.5,433.9a1.2,0.6 0 1 0 2.4,0a1.2,0.6 0 1 0 -2.4,0M417.1,437.3a1.2,0.6 0 1 0 2.4,0a1.2,0.6 0 1 0 -2.4,0M422.8,440.6a1.2,0.6 0 1 0 2.4,0a1.2,0.6 0 1 0 -2.4,0M428.5,444.0a1.2,0.6 0 1 0 2.4,0a1.2,0.6 0 1 0 -2.4,0M434.1,447.3a1.2,0.6 0 1 0 2.4,0a1.2,0.6 0 1 0 -2.4,0M439.8,450.7a1.2,0.6 0 1 0 2.4,0a1.2,0.6 0 1 0 -2.4,0M445.5,454.1a1.2,0.6 0 1 0 2.4,0a1.2,0.6 0 1 0 -2.4,0M451.1,457.4a1.2,0.6 0 1 0 2.4,0a1.2,0.6 0 1 0 -2.4,0M456.8,460.8a1.2,0.6 0 1 0 2.4,0a1.2,0.6 0 1 0 -2.4,0M462.5,464.2a1.2,0.6 0 1 0 2.4,0a1.2,0.6 0 1 0 -2.4,0M468.1,467.5a1.2,0.6 0 1 0 2.4,0a1.2,0.6 0 1 0 -2.4,0M473.8,470.9a1.2,0.6 0 1 0 2.4,0a1.2,0.6 0 1 0 -2.4,0M479.5,474.3a1.2,0.6 0 1 0 2.4,0a1.2,0.6 0 1 0 -2.4,0M485.1,477.6a1.2,0.6 0 1 0 2.4,0a1.2,0.6 0 1 0 -2.4,0M406.0,424.0a1.2,0.6 0 1 0 2.4,0a1.2,0.6 0 1 0 -2.4,0M411.7,427.4a1.2,0.6 0 1 0 2.4,0a1.2,0.6 0 1 0 -2.4,0M417.3,430.8a1.2,0.6 0 1 0 2.4,0a1.2,0.6 0 1 0 -2.4,0M423.0,434.1a1.2,0.6 0 1 0 2.4,0a1.2,0.6 0 1 0 -2.4,0M428.7,437.5a1.2,0.6 0 1 0 2.4,0a1.2,0.6 0 1 0 -2.4,0M434.3,440.9a1.2,0.6 0 1 0 2.4,0a1.2,0.6 0 1 0 -2.4,0M440.0,444.2a1.2,0.6 0 1 0 2.4,0a1.2,0.6 0 1 0 -2.4,0M445.7,447.6a1.2,0.6 0 1 0 2.4,0a1.2,0.6 0 1 0 -2.4,0M451.3,451.0a1.2,0.6 0 1 0 2.4,0a1.2,0.6 0 1 0 -2.4,0M457.0,454.3a1.2,0.6 0 1 0 2.4,0a1.2,0.6 0 1 0 -2.4,0M462.7,457.7a1.2,0.6 0 1 0 2.4,0a1.2,0.6 0 1 0 -2.4,0M468.3,461.0a1.2,0.6 0 1 0 2.4,0a1.2,0.6 0 1 0 -2.4,0M474.0,464.4a1.2,0.6 0 1 0 2.4,0a1.2,0.6 0 1 0 -2.4,0M479.7,467.8a1.2,0.6 0 1 0 2.4,0a1.2,0.6 0 1 0 -2.4,0M485.3,471.1a1.2,0.6 0 1 0 2.4,0a1.2,0.6 0 1 0 -2.4,0M491.0,474.5a1.2,0.6 0 1 0 2.4,0a1.2,0.6 0 1 0 -2.4,0M411.9,420.9a1.2,0.6 0 1 0 2.4,0a1.2,0.6 0 1 0 -2.4,0M417.5,424.3a1.2,0.6 0 1 0 2.4,0a1.2,0.6 0 1 0 -2.4,0M423.2,427.6a1.2,0.6 0 1 0 2.4,0a1.2,0.6 0 1 0 -2.4,0M428.9,431.0a1.2,0.6 0 1 0 2.4,0a1.2,0.6 0 1 0 -2.4,0M434.5,434.4a1.2,0.6 0 1 0 2.4,0a1.2,0.6 0 1 0 -2.4,0M440.2,437.7a1.2,0.6 0 1 0 2.4,0a1.2,0.6 0 1 0 -2.4,0M445.9,441.1a1.2,0.6 0 1 0 2.4,0a1.2,0.6 0 1 0 -2.4,0M451.5,444.5a1.2,0.6 0 1 0 2.4,0a1.2,0.6 0 1 0 -2.4,0M457.2,447.8a1.2,0.6 0 1 0 2.4,0a1.2,0.6 0 1 0 -2.4,0M462.9,451.2a1.2,0.6 0 1 0 2.4,0a1.2,0.6 0 1 0 -2.4,0M468.5,454.6a1.2,0.6 0 1 0 2.4,0a1.2,0.6 0 1 0 -2.4,0M474.2,457.9a1.2,0.6 0 1 0 2.4,0a1.2,0.6 0 1 0 -2.4,0M479.9,461.3a1.2,0.6 0 1 0 2.4,0a1.2,0.6 0 1 0 -2.4,0M485.5,464.6a1.2,0.6 0 1 0 2.4,0a1.2,0.6 0 1 0 -2.4,0M491.2,468.0a1.2,0.6 0 1 0 2.4,0a1.2,0.6 0 1 0 -2.4,0M496.9,471.4a1.2,0.6 0 1 0 2.4,0a1.2,0.6 0 1 0 -2.4,0M417.7,417.8a1.2,0.6 0 1 0 2.4,0a1.2,0.6 0 1 0 -2.4,0M423.4,421.2a1.2,0.6 0 1 0 2.4,0a1.2,0.6 0 1 0 -2.4,0M429.1,424.5a1.2,0.6 0 1 0 2.4,0a1.2,0.6 0 1 0 -2.4,0M434.7,427.9a1.2,0.6 0 1 0 2.4,0a1.2,0.6 0 1 0 -2.4,0M440.4,431.3a1.2,0.6 0 1 0 2.4,0a1.2,0.6 0 1 0 -2.4,0M446.1,434.6a1.2,0.6 0 1 0 2.4,0a1.2,0.6 0 1 0 -2.4,0M451.7,438.0a1.2,0.6 0 1 0 2.4,0a1.2,0.6 0 1 0 -2.4,0M457.4,441.3a1.2,0.6 0 1 0 2.4,0a1.2,0.6 0 1 0 -2.4,0M463.1,444.7a1.2,0.6 0 1 0 2.4,0a1.2,0.6 0 1 0 -2.4,0M468.7,448.1a1.2,0.6 0 1 0 2.4,0a1.2,0.6 0 1 0 -2.4,0M474.4,451.4a1.2,0.6 0 1 0 2.4,0a1.2,0.6 0 1 0 -2.4,0M480.1,454.8a1.2,0.6 0 1 0 2.4,0a1.2,0.6 0 1 0 -2.4,0M485.7,458.2a1.2,0.6 0 1 0 2.4,0a1.2,0.6 0 1 0 -2.4,0M491.4,461.5a1.2,0.6 0 1 0 2.4,0a1.2,0.6 0 1 0 -2.4,0M497.1,464.9a1.2,0.6 0 1 0 2.4,0a1.2,0.6 0 1 0 -2.4,0M502.7,468.3a1.2,0.6 0 1 0 2.4,0a1.2,0.6 0 1 0 -2.4,0M423.6,414.7a1.2,0.6 0 1 0 2.4,0a1.2,0.6 0 1 0 -2.4,0M429.3,418.0a1.2,0.6 0 1 0 2.4,0a1.2,0.6 0 1 0 -2.4,0M434.9,421.4a1.2,0.6 0 1 0 2.4,0a1.2,0.6 0 1 0 -2.4,0M440.6,424.8a1.2,0.6 0 1 0 2.4,0a1.2,0.6 0 1 0 -2.4,0M446.3,428.1a1.2,0.6 0 1 0 2.4,0a1.2,0.6 0 1 0 -2.4,0M451.9,431.5a1.2,0.6 0 1 0 2.4,0a1.2,0.6 0 1 0 -2.4,0M457.6,434.9a1.2,0.6 0 1 0 2.4,0a1.2,0.6 0 1 0 -2.4,0M463.3,438.2a1.2,0.6 0 1 0 2.4,0a1.2,0.6 0 1 0 -2.4,0M468.9,441.6a1.2,0.6 0 1 0 2.4,0a1.2,0.6 0 1 0 -2.4,0M474.6,445.0a1.2,0.6 0 1 0 2.4,0a1.2,0.6 0 1 0 -2.4,0M480.3,448.3a1.2,0.6 0 1 0 2.4,0a1.2,0.6 0 1 0 -2.4,0M485.9,451.7a1.2,0.6 0 1 0 2.4,0a1.2,0.6 0 1 0 -2.4,0M491.6,455.0a1.2,0.6 0 1 0 2.4,0a1.2,0.6 0 1 0 -2.4,0M497.3,458.4a1.2,0.6 0 1 0 2.4,0a1.2,0.6 0 1 0 -2.4,0M502.9,461.8a1.2,0.6 0 1 0 2.4,0a1.2,0.6 0 1 0 -2.4,0M508.6,465.1a1.2,0.6 0 1 0 2.4,0a1.2,0.6 0 1 0 -2.4,0M429.5,411.6a1.2,0.6 0 1 0 2.4,0a1.2,0.6 0 1 0 -2.4,0M435.1,414.9a1.2,0.6 0 1 0 2.4,0a1.2,0.6 0 1 0 -2.4,0M440.8,418.3a1.2,0.6 0 1 0 2.4,0a1.2,0.6 0 1 0 -2.4,0M446.5,421.7a1.2,0.6 0 1 0 2.4,0a1.2,0.6 0 1 0 -2.4,0M452.1,425.0a1.2,0.6 0 1 0 2.4,0a1.2,0.6 0 1 0 -2.4,0M457.8,428.4a1.2,0.6 0 1 0 2.4,0a1.2,0.6 0 1 0 -2.4,0M463.5,431.7a1.2,0.6 0 1 0 2.4,0a1.2,0.6 0 1 0 -2.4,0M469.1,435.1a1.2,0.6 0 1 0 2.4,0a1.2,0.6 0 1 0 -2.4,0M474.8,438.5a1.2,0.6 0 1 0 2.4,0a1.2,0.6 0 1 0 -2.4,0M480.5,441.8a1.2,0.6 0 1 0 2.4,0a1.2,0.6 0 1 0 -2.4,0M486.1,445.2a1.2,0.6 0 1 0 2.4,0a1.2,0.6 0 1 0 -2.4,0M491.8,448.6a1.2,0.6 0 1 0 2.4,0a1.2,0.6 0 1 0 -2.4,0M497.5,451.9a1.2,0.6 0 1 0 2.4,0a1.2,0.6 0 1 0 -2.4,0M503.1,455.3a1.2,0.6 0 1 0 2.4,0a1.2,0.6 0 1 0 -2.4,0M508.8,458.7a1.2,0.6 0 1 0 2.4,0a1.2,0.6 0 1 0 -2.4,0M514.5,462.0a1.2,0.6 0 1 0 2.4,0a1.2,0.6 0 1 0 -2.4,0" fill="#8fc4a0"/>
<path d="M338,293.5 L441,355.5 Q450,358 459,355.5 L538,311 Q546,306.5 545.5,301 Q545,297.5 541,295.5 L488,265.5 L443,294.5 Z" fill="#b2dcc9"/>
<path d="M336.2,291.3 L441,352 Q450,355.5 459,352 L536,307.5 Q541.5,304 540.5,300.5 Q539.5,298 536,296.5 L491,270 L443,294.5 L336.6,291 Z" fill="url(#rim)"/>
<path d="M336,289.5 L441,352 Q450,355.5 459,352 L536,307.5 Q541.5,304 540.5,300.5 Q539.5,298 536,296.5 L491,270" fill="none" stroke="#000" stroke-width="1.05"/>
<path d="M338,293.5 L441,355.5 Q450,358 459,355.5 L538,311 Q546,306.5 545.5,301 Q545,297.5 541,295.5 L488,265.5" fill="none" stroke="#000" stroke-width="1.05"/>
<path d="M334.8,289.9 L355.2,460 M371.7,496.2 L443.8,535.8 Q452,539.5 460,535.5 L522,497.3 L545.8,301" fill="none" stroke="#000" stroke-width="1.2"/>
<g transform="translate(360.2,324) rotate(-35)"><ellipse cx="2" cy="0" rx="5.3" ry="8.5" fill="#bfae7e" stroke="#000" stroke-width="1"/><ellipse cx="0" cy="0" rx="5.3" ry="8.5" fill="#b9a97b" stroke="#000" stroke-width="1"/></g>
<g transform="translate(418.4,357.5) rotate(-35)"><ellipse cx="2" cy="0" rx="5.3" ry="8.5" fill="#bfae7e" stroke="#000" stroke-width="1"/><ellipse cx="0" cy="0" rx="5.3" ry="8.5" fill="#b9a97b" stroke="#000" stroke-width="1"/></g>
<g transform="translate(425.8,507.4) rotate(-35)"><ellipse cx="2" cy="0" rx="5.3" ry="8.5" fill="#bfae7e" stroke="#000" stroke-width="1"/><ellipse cx="0" cy="0" rx="5.3" ry="8.5" fill="#b9a97b" stroke="#000" stroke-width="1"/></g>
<g transform="translate(518.5,299.5) rotate(-28)"><ellipse cx="2.2" cy="-1" rx="6" ry="7" fill="#a8a88c" opacity="0.85"/><ellipse cx="0" cy="0" rx="3.6" ry="4.8" fill="#c8b98b" stroke="#000" stroke-width="0.8"/></g>
<path d="M335.2,274.3 L426,281 Q432,282 438,280 L443,294.5 Q436,296.5 428,295.8 L334.8,289.9 Z" fill="url(#lidfl)"/>
<path d="M438,280 L525.2,226.8 L535.6,239.9 L443,294.5 Z" fill="url(#lidfr)"/>
<path d="M335.2,274.3 L418.5,224 Q426,220.3 434,221.3 L525.2,226.8 L438,280 Q432,282 426,281 Z" fill="url(#lidtop)"/>
<g clip-path="url(#lidclip2)"><path d="M343,280 L414,238 Q424,232 436,235.5 L492,267.5 L445,296 L340,292 Z" fill="#9bcab8"/><path d="M436,235.5 L492,267.5" fill="none" stroke="#92d0bd" stroke-width="2" opacity="0.9"/></g>
<g clip-path="url(#lidclip)"><path d="M346,275 L414,236 Q424,230.5 434,234" fill="none" stroke="#86d4c0" stroke-width="2" opacity="0.9"/></g>
<g transform="translate(461.6,264.6) rotate(-30)"><ellipse cx="1.5" cy="0" rx="5" ry="7" fill="#a3b4a4" opacity="0.8"/><ellipse cx="0" cy="0" rx="4.2" ry="6.3" fill="#9fb0a0" stroke="#7f9a8c" stroke-width="0.8" opacity="0.8"/></g>
<path d="M335.2,274.3 L418.5,224 Q426,220.3 434,221.3 L525.2,226.8 L535.6,239.9 L443,294.5 Q436,296.5 428,295.8 L334.8,289.9 Z" fill="none" stroke="#000" stroke-width="1.2"/>
<path d="M335.2,274.3 L426,281 Q432,282 438,280 L525.2,226.8" fill="none" stroke="#000" stroke-width="1.1"/>
<circle cx="364.5" cy="460" r="1.8" fill="#1a1a1a"/><circle cx="434" cy="499.9" r="1.8" fill="#1a1a1a"/>
<path d="M372,472 L384,466.5" stroke="#a89a72" stroke-width="3"/>
<g transform="translate(355.4,481.6) rotate(-30)"><ellipse cx="2.4" cy="0" rx="14.8" ry="22" fill="#858585" stroke="#000" stroke-width="1.1"/><ellipse cx="0" cy="0" rx="14.8" ry="22" fill="#5f5f5f" stroke="#000" stroke-width="1.1"/></g>
<circle cx="353" cy="483.4" r="2.4" fill="#111"/><circle cx="353.8" cy="484" r="1" fill="#c8b98b"/>
<g transform="translate(372,474.5) rotate(-25)"><ellipse cx="2" cy="0" rx="4.3" ry="7.6" fill="#bfae7e" stroke="#000" stroke-width="1"/><ellipse cx="0" cy="0" rx="4.3" ry="7.6" fill="#b9a97b" stroke="#000" stroke-width="1"/></g>
<ellipse cx="373.2" cy="474" rx="3" ry="6" fill="none" stroke="#000" stroke-width="0.7" transform="rotate(-25 373.2 474)"/>
<g fill="#fff" stroke="#000" stroke-width="1.15">
<circle cx="569.5" cy="233.9" r="11.2"/>
<circle cx="613.7" cy="233.9" r="11.2"/>
<circle cx="658.2" cy="233.9" r="11.2"/>
<circle cx="269.4" cy="460.5" r="11.2"/>
<circle cx="389.3" cy="527.1" r="11.2"/>
<circle cx="461.5" cy="550.7" r="11.2"/>
</g>
<text x="569.5" y="237.4" font-size="9.8" text-anchor="middle" >3</text>
<text x="613.7" y="237.4" font-size="9.8" text-anchor="middle" >6</text>
<text x="658.2" y="237.4" font-size="9.8" text-anchor="middle" >1</text>
<text x="269.4" y="464.0" font-size="9.8" text-anchor="middle" >4</text>
<text x="389.3" y="530.6" font-size="9.8" text-anchor="middle" >5</text>
<text x="461.5" y="554.2" font-size="9.8" text-anchor="middle" >2</text>
<g fill="none" stroke="#000" stroke-width="1">
<path d="M558.3,235.9 L535.7,240"/>
<path d="M604.4,241.3 L522.3,302.8"/>
<path d="M647.9,240 L547,299.2"/>
<path d="M280.5,462.5 L352.5,482.5"/>
<path d="M384.9,516 L370.6,481"/>
<path d="M455.9,539.5 L434.4,500.4"/>
</g>
<path d="M535.70,240.00 L540.36,237.64 L540.89,240.59 Z" fill="#000" stroke="none"/>
<path d="M547.00,299.20 L550.56,295.38 L552.07,297.97 Z" fill="#000" stroke="none"/>
<circle cx="522.3" cy="302.8" r="1.5" fill="#000"/>
<rect x="865" y="0" width="12" height="615" fill="#fff"/>
<rect x="0" y="605.6" width="877" height="10" fill="#fff"/>
</svg></body></html>
